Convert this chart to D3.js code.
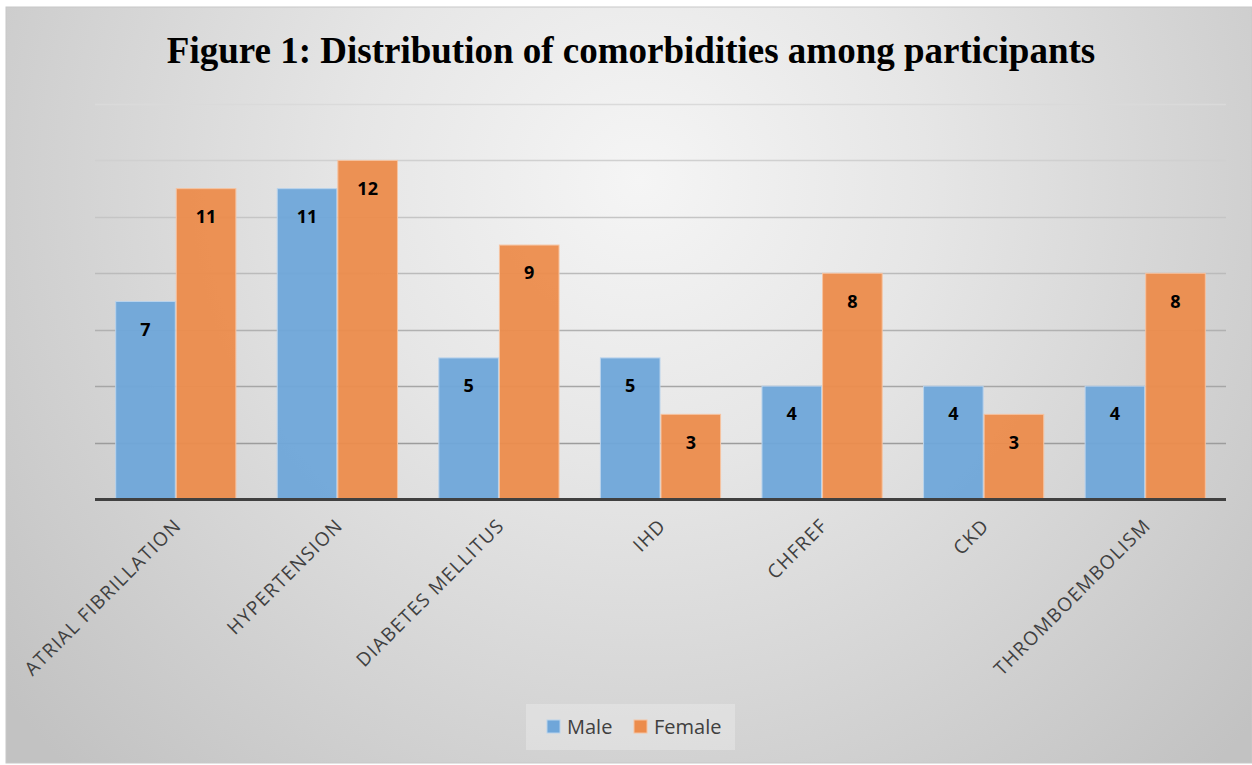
<!DOCTYPE html>
<html>
<head>
<meta charset="utf-8">
<script src="https://cdn.jsdelivr.net/npm/d3@7"></script>
<style>
  html, body { margin: 0; padding: 0; background: #ffffff; }
  svg { display: block; }
</style>
</head>
<body>
<svg id="chart" width="1252" height="765"></svg>
<script>
const categories = ["ATRIAL FIBRILLATION", "HYPERTENSION", "DIABETES MELLITUS", "IHD", "CHFREF", "CKD", "THROMBOEMBOLISM"];
const seriesNames = ["Male", "Female"];
const maleValues = [7, 11, 5, 5, 4, 4, 4];
const femaleValues = [11, 12, 9, 3, 8, 3, 8];
const yTicks = [0, 2, 4, 6, 8, 10, 12, 14];
const colors = ["#6fa6d9", "#ec8c4c"];
const titleText = "Figure 1: Distribution of comorbidities among participants";

const svg = d3.select("#chart");
const W = 1252, H = 765;

// background
const defs = svg.append("defs");
const rg = defs.append("radialGradient").attr("id", "bg")
  .attr("gradientUnits", "userSpaceOnUse")
  .attr("cx", 640).attr("cy", 180).attr("r", 820);
rg.append("stop").attr("offset", "0%").attr("stop-color", "#f5f5f5");
rg.append("stop").attr("offset", "35%").attr("stop-color", "#e6e6e6");
rg.append("stop").attr("offset", "100%").attr("stop-color", "#c2c2c2");

svg.append("rect").attr("x", 6).attr("y", 7).attr("width", W - 6).attr("height", H - 9)
  .attr("fill", "url(#bg)").attr("stroke", "#c8c8c8").attr("stroke-width", 1);

const x0 = d3.scaleBand().domain(categories).range([95, 1226]).paddingInner(0.25).paddingOuter(0.125);
const x1 = d3.scaleBand().domain(seriesNames).range([0, x0.bandwidth()]).padding(0);
const y = d3.scaleLinear().domain([0, 14]).range([499, 104]);

// title
svg.append("text").attr("x", 631).attr("y", 63).attr("text-anchor", "middle")
  .attr("font-family", "'Liberation Serif', 'Times New Roman', serif")
  .attr("font-weight", "bold").attr("font-size", 37).attr("fill", "#000")
  .text(titleText);

// gridlines
const gridColor = d3.scaleLinear().domain([2, 14]).range(["#9c9c9c", "#dadada"]);
svg.append("g").selectAll("line").data(yTicks.filter(d => d > 0)).join("line")
  .attr("x1", 95).attr("x2", 1226)
  .attr("y1", d => Math.round(y(d)) + 0.5).attr("y2", d => Math.round(y(d)) + 0.5)
  .attr("stroke", d => gridColor(d)).attr("stroke-width", 1.5);

// bars
const data = categories.map((c, i) => ({ cat: c, vals: [maleValues[i], femaleValues[i]] }));
const groups = svg.append("g").selectAll("g").data(data).join("g")
  .attr("transform", d => `translate(${x0(d.cat)},0)`);
groups.selectAll("rect").data(d => d.vals.map((v, j) => ({ v, s: seriesNames[j], j }))).join("rect")
  .attr("x", d => x1(d.s) + 0.5)
  .attr("y", d => y(d.v))
  .attr("width", x1.bandwidth() - 1)
  .attr("height", d => y(0) - y(d.v))
  .attr("fill", d => colors[d.j])
  .attr("fill-opacity", 0.95)
  .attr("stroke", d => d.j === 0 ? "#b9d3ec" : "#f6c3a1")
  .attr("stroke-width", 1);

groups.selectAll("text").data(d => d.vals.map((v, j) => ({ v, s: seriesNames[j], j }))).join("text")
  .attr("x", d => x1(d.s) + x1.bandwidth() / 2)
  .attr("y", d => y(d.v) + 28)
  .attr("dy", "0.35em")
  .attr("text-anchor", "middle")
  .attr("font-family", "'Open Sans', 'Liberation Sans', sans-serif")
  .attr("font-weight", "bold").attr("font-size", 18).attr("fill", "#000")
  .text(d => d.v);

// axis baseline
svg.append("line").attr("x1", 95).attr("x2", 1226).attr("y1", 499.5).attr("y2", 499.5)
  .attr("stroke", "#404040").attr("stroke-width", 3);

// category labels
svg.append("g").selectAll("text").data(categories).join("text")
  .attr("transform", d => `translate(${x0(d) + x0.bandwidth() / 2 + 2},${522}) rotate(-45)`)
  .attr("text-anchor", "end")
  .attr("dy", "0.35em")
  .attr("font-family", "'Open Sans', 'Liberation Sans', sans-serif")
  .attr("font-size", 19).attr("letter-spacing", 1.3).attr("fill", "#404040")
  .text(d => d);

// legend
const leg = svg.append("g");
leg.append("rect").attr("x", 526).attr("y", 704).attr("width", 209).attr("height", 46)
  .attr("fill", "#ffffff").attr("fill-opacity", 0.25);
const legX = [547, 634];
seriesNames.forEach((s, i) => {
  leg.append("rect").attr("x", legX[i]).attr("y", 720).attr("width", 13).attr("height", 13)
    .attr("fill", colors[i]).attr("stroke", i === 0 ? "#b9d3ec" : "#f6c3a1");
  leg.append("text").attr("x", legX[i] + 20).attr("y", 727).attr("dy", "0.35em")
    .attr("font-family", "'Open Sans', 'Liberation Sans', sans-serif")
    .attr("font-size", 20).attr("fill", "#404040").text(s);
});
</script>
</body>
</html>
